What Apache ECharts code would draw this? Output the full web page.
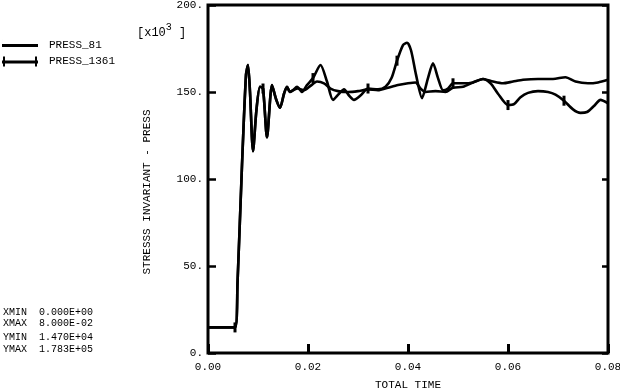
<!DOCTYPE html>
<html><head><meta charset="utf-8">
<script src="https://cdn.jsdelivr.net/npm/echarts@6/dist/echarts.min.js"></script>
<style>html,body{margin:0;padding:0;background:#fff}#c{width:620px;height:390px}</style>
</head><body><div id="c"></div>
<script>
// ---- data (time in s, press in x10^3) ----
var earlyT = [0, 0.0054, 0.0059, 0.0068, 0.0076, 0.0080, 0.0084, 0.0090, 0.0097, 0.0104, 0.0110, 0.0118, 0.0128, 0.0136, 0.0144, 0.0152, 0.0158, 0.0164, 0.0170];
var earlyV = [14.7, 14.7, 40, 108, 160, 165.5, 150, 116, 140, 153, 152, 124, 154, 146, 141, 149, 153, 150, 151];

var t81 = [0.0180, 0.0192, 0.0205, 0.0218, 0.0232, 0.0245, 0.026, 0.028, 0.030, 0.032, 0.034, 0.036, 0.038, 0.040, 0.0415, 0.0425, 0.0435, 0.0455, 0.0475, 0.049, 0.051, 0.053, 0.055, 0.057, 0.059, 0.061, 0.063, 0.066, 0.069, 0.0715, 0.0735, 0.076, 0.078, 0.080];
var v81 = [152, 151, 153.5, 156, 155, 152, 150.5, 150, 150.5, 151.5, 151, 152.5, 154, 155, 155.5, 152, 150, 150.5, 150, 152.5, 153, 155.5, 157.5, 156, 155, 156, 157, 157.5, 157.5, 158.5, 156, 155, 155.5, 157];

var t1361 = [0.0178, 0.0188, 0.0198, 0.021, 0.0225, 0.0238, 0.0250, 0.0262, 0.0272, 0.0282, 0.0292, 0.0305, 0.032, 0.034, 0.0355, 0.0367, 0.0378, 0.0390, 0.0398, 0.0406, 0.0416, 0.0428, 0.0440, 0.0450, 0.0460, 0.0470, 0.0480, 0.049, 0.051, 0.053, 0.055, 0.0565, 0.058, 0.060, 0.0612, 0.0625, 0.064, 0.066, 0.068, 0.0695, 0.0712, 0.073, 0.0745, 0.0758, 0.0772, 0.0785, 0.080];
var v1361 = [153, 150, 154, 158, 165.5, 156, 145.5, 149, 151.5, 148, 145.5, 148, 152, 151.5, 153, 158, 168, 177, 178.3, 174, 160, 146.5, 158, 166.5, 158, 151, 152, 155, 155, 155.5, 157.5, 155, 149, 142.5, 143, 147, 149.5, 150.5, 150, 148.5, 145, 140, 138, 138.5, 142, 145.5, 143.5];

var markerTimes1361 = [0.0054, 0.0110, 0.021, 0.032, 0.0378, 0.049, 0.060, 0.0712];

var xTicks = [0, 0.02, 0.04, 0.06, 0.08];
var yTicks = [0, 50, 100, 150, 200];
var statLines = ['XMIN  0.000E+00', 'XMAX  8.000E-02', 'YMIN  1.470E+04', 'YMAX  1.783E+05'];

// ---- build ----
var MONO = '"Liberation Mono","DejaVu Sans Mono",monospace';
var markPath = 'path://M0,0h2v12h-2z';
function pairs(ts, vs){ return ts.map(function(t,i){ return [t, vs[i]]; }); }
var d81 = pairs(earlyT.concat(t81), earlyV.concat(v81));
var d1361 = pairs(earlyT.concat(t1361), earlyV.concat(v1361)).map(function(p){
  var isMark = markerTimes1361.some(function(m){ return Math.abs(m - p[0]) < 1e-9; });
  return isMark ? {value: p, symbol: markPath, symbolSize: [3, 10]} : {value: p};
});

var chart = echarts.init(document.getElementById('c'), null, {renderer: 'canvas'});
var textStyle = {fontFamily: MONO, fontSize: 11, color: '#000'};
chart.setOption({
  animation: false,
  backgroundColor: '#fff',
  grid: {left: 208, right: 12, top: 5, bottom: 37, outerBoundsMode: 'none', containLabel: false,
         show: true, borderColor: '#000', borderWidth: 3, backgroundColor: 'transparent'},
  legend: {
    orient: 'vertical', left: 2, top: 39, padding: 0, itemWidth: 36, itemHeight: 12, itemGap: 5,
    textStyle: {fontFamily: MONO, fontSize: 11, color: '#000', padding: [0, 0, 0, 6]},
    data: [
      {name: 'PRESS_81', icon: 'path://M0,5h36v3h-36z M0,0h0.01v12h-0.01z'},
      {name: 'PRESS_1361', icon: 'path://M0,5h36v3h-36z M1,1h2v10h-2z M33,1h2v10h-2z'}
    ]
  },
  xAxis: {
    type: 'value', min: 0, max: 0.08, interval: 0.02,
    name: 'TOTAL TIME', nameLocation: 'middle', nameGap: 27, nameTextStyle: textStyle,
    axisLine: {show: false}, splitLine: {show: false},
    axisTick: {show: true, inside: true, length: 9, lineStyle: {color: '#000', width: 3}},
    axisLabel: {margin: 9, fontFamily: MONO, fontSize: 11, color: '#000', formatter: function(v){ return v.toFixed(2); }}
  },
  yAxis: [{
    type: 'value', min: 0, max: 200, interval: 50, position: 'left',
    axisLine: {show: false}, splitLine: {show: false},
    axisTick: {show: true, inside: true, length: 8, lineStyle: {color: '#000', width: 2.5}},
    axisLabel: {margin: 5, fontFamily: MONO, fontSize: 11, color: '#000', formatter: function(v){ return v + '.'; }}
  }, {
    type: 'value', min: 0, max: 200, interval: 50, position: 'right',
    axisLine: {show: false}, splitLine: {show: false},
    axisTick: {show: true, inside: true, length: 6, lineStyle: {color: '#000', width: 2.5}},
    axisLabel: {show: false}
  }],
  graphic: [
    {type: 'text', left: 137, top: 22, style: {
      text: '{a|[x10}{s|3}{a| ]}',
      rich: {a: {fontFamily: MONO, fontSize: 12, color: '#000', verticalAlign: 'bottom'}, s: {fontFamily: MONO, fontSize: 10, color: '#000', padding: [0, 0, 7, 0], verticalAlign: 'bottom'}}
    }},
    {type: 'text', x: 147, y: 192, rotation: Math.PI / 2, style: {
      text: 'STRESSS INVARIANT - PRESS', fontFamily: MONO, fontSize: 11, fill: '#000', align: 'center', verticalAlign: 'middle'
    }}
  ].concat(statLines.map(function(s, i){
    return {type: 'text', left: 3, top: [307, 318, 332, 344][i], style: {text: s, fontFamily: MONO, fontSize: 10, fill: '#000', whiteSpace: 'pre'}};
  })),
  series: [
    {name: 'PRESS_81', type: 'line', data: d81, symbol: 'none', showSymbol: false,
     lineStyle: {color: '#000', width: 2.6}, itemStyle: {color: '#000'}, smooth: 0.25},
    {name: 'PRESS_1361', type: 'line', data: d1361, symbol: 'none', showAllSymbol: true,
     lineStyle: {color: '#000', width: 2.6}, itemStyle: {color: '#000'}, smooth: 0.25}
  ]
});
</script></body></html>
